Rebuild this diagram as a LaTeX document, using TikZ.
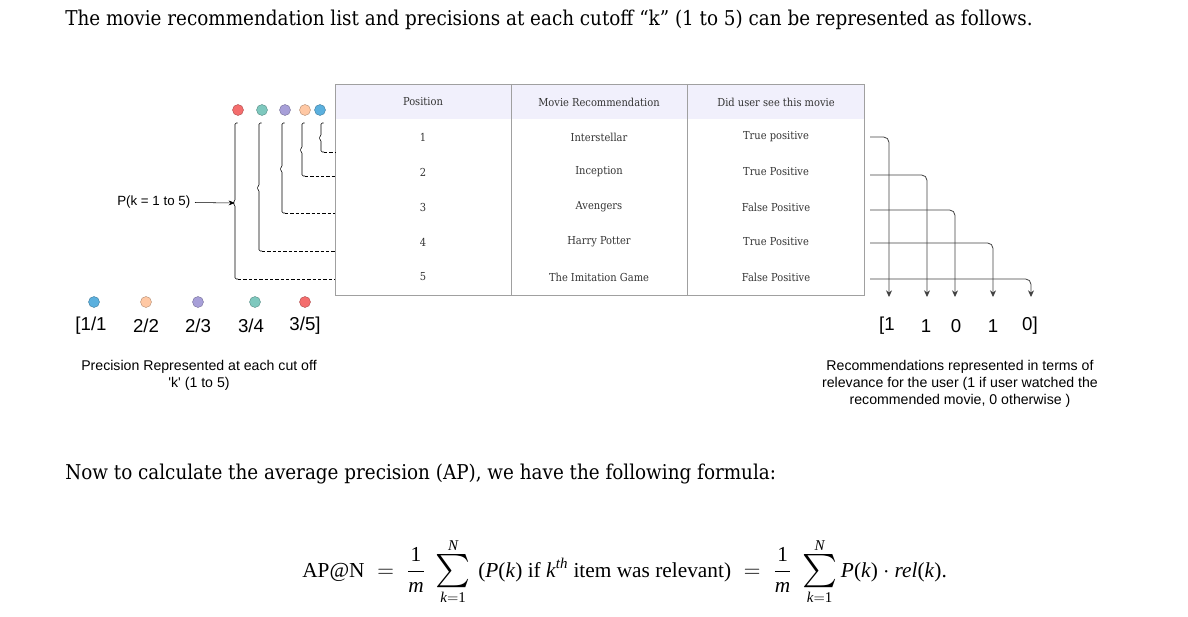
\documentclass[tikz,border=0pt]{standalone}
\usepackage{fontspec}
\usepackage{amsmath}
\setmainfont{Liberation Serif}
\newfontfamily\headfont{DejaVu Serif Condensed}
\newfontfamily\arialfont{Liberation Sans}
\usetikzlibrary{arrows.meta}
\definecolor{dotred}{HTML}{F46D6D}
\definecolor{dotteal}{HTML}{7EC8BE}
\definecolor{dotpurple}{HTML}{A79FD8}
\definecolor{dotpeach}{HTML}{FFC8A4}
\definecolor{dotblue}{HTML}{5BB0DE}
\definecolor{headbg}{HTML}{F1F0FC}
\definecolor{tabline}{HTML}{A0A0A0}
\newcommand{\bigsum}{\mathop{\vcenter{\hbox{\fontsize{24}{24}\selectfont$\sum$}}}\limits}

\begin{document}
\begin{tikzpicture}[x=0.75pt,y=-0.75pt,>=Stealth,
 cell/.style={font=\headfont\fontsize{8.25}{10}\selectfont,text=black!80},
 dot/.style={circle,inner sep=0pt,minimum size=8.25pt,fill=#1,draw=#1!70!black,line width=.3pt},
 capt/.style={font=\arialfont\fontsize{10.6}{12.75}\selectfont,align=center},
 lst/.style={font=\arialfont\fontsize{14}{16}\selectfont},
 head/.style={font=\headfont\fontsize{15.3}{18}\selectfont,anchor=base west,inner sep=0pt}]
 \useasboundingbox (0,0) rectangle (1188,617);
 % heading lines
 \node[head] (title) at (65,26) {The movie recommendation list and precisions at each cutoff “k” (1 to 5) can be represented as follows.};
 \node[head] (now) at (65,479) {Now to calculate the average precision (AP), we have the following formula:};
 % table
 \fill[headbg] (335,84) rectangle (864,119);
 \draw[tabline] (335,84) rectangle (864,295);
 \draw[tabline] (511,84) -- (511,295) (687,84) -- (687,295);
 \node[cell] (hpos) at (423,102) {Position};
 \node[cell] (hmov) at (599,102) {Movie Recommendation};
 \node[cell] (hsee) at (776,102) {Did user see this movie};
 \foreach \i/\m/\s in {1/Interstellar/True positive,2/Inception/True Positive,3/Avengers/False Positive,4/Harry Potter/True Positive,5/The Imitation Game/False Positive}{
  \node[cell] (pos\i) at (423,102+35*\i) {\i};
  \node[cell] (mov\i) at (599,102+35*\i) {\m};
  \node[cell] (see\i) at (776,102+35*\i) {\s};
 }
 % dots above the brackets
 \foreach \x/\c [count=\i] in {238/dotred,262/dotteal,285/dotpurple,305/dotpeach,320/dotblue}
  \node[dot=\c] (top\i) at (\x,110) {};
 % brackets for each cutoff
 \foreach \x/\b/\m [count=\i] in {235/279/203,259/251/188,282/213/169,302/176/150,321/152/138}{
  \coordinate (br\i) at (\x,\m);
  \draw[thin,rounded corners=1pt] (\x+2.5,123) -- (\x,123) -- (\x,\m-2) -- (\x-2.5,\m) -- (\x,\m+2) -- (\x,\b) -- (\x+3,\b);
  \draw[thin,dashed,dash pattern=on 2.5pt off 1.5pt] (\x+3,\b) -- (335,\b);
 }
 \node[capt,anchor=east,font=\arialfont\fontsize{10}{12}\selectfont] (pk) at (195,202) {P(k = 1 to 5)};
 \draw[->,thin] (pk) -- (br1);
 % precision list
 \foreach \x/\c [count=\i] in {94/dotblue,146/dotpeach,198/dotpurple,255/dotteal,305/dotred}
  \node[dot=\c] (bot\i) at (\x,302) {};
 \foreach \x/\t [count=\i] in {91/{[1/1},146/{2/2},198/{2/3},251/{3/4},305/{3/5]}}
  \node[lst] (prec\i) at (\x,326) {\t};
 \node[capt] (pcapt) at (199,375) {Precision Represented at each cut off\\'k' (1 to 5)};
 % relevance arrows
 \foreach \y/\x [count=\i] in {137/889,175/927,210/955,243/993,279/1031}{
  \coordinate (rs\i) at (870,\y);
  \coordinate (re\i) at (\x,297);
  \draw[semithick,black!75,rounded corners=4pt,-{Stealth[length=5pt,width=4.5pt]}] (rs\i) -| (re\i);
 }
 \foreach \x/\t [count=\i] in {887/{[1},926/1,956/0,993/1,1030/{0]}}
  \node[lst] (rel\i) at (\x,326) {\t};
 \node[capt] (rcapt) at (960,384) {Recommendations represented in terms of\\relevance for the user (1 if user watched the\\recommended movie, 0 otherwise )};
 % formula
 \node[anchor=base west,inner sep=0pt,font=\fontsize{16}{19}\selectfont] (apform) at (302,577)
  {$\text{AP@N}\;=\;\dfrac{\text{1}}{\textit{m}}\;\bigsum_{\textit{k}=\text{1}}^{\textit{N}}\,\text{(\textit{P}(\textit{k}) if \textit{k}$^{\textit{th}}$ item was relevant)}\;=\;\dfrac{\text{1}}{\textit{m}}\;\bigsum_{\textit{k}=\text{1}}^{\textit{N}}\text{\textit{P}(\textit{k})}\cdot\text{\textit{rel}(\textit{k}).}$};
\end{tikzpicture}
\end{document}
